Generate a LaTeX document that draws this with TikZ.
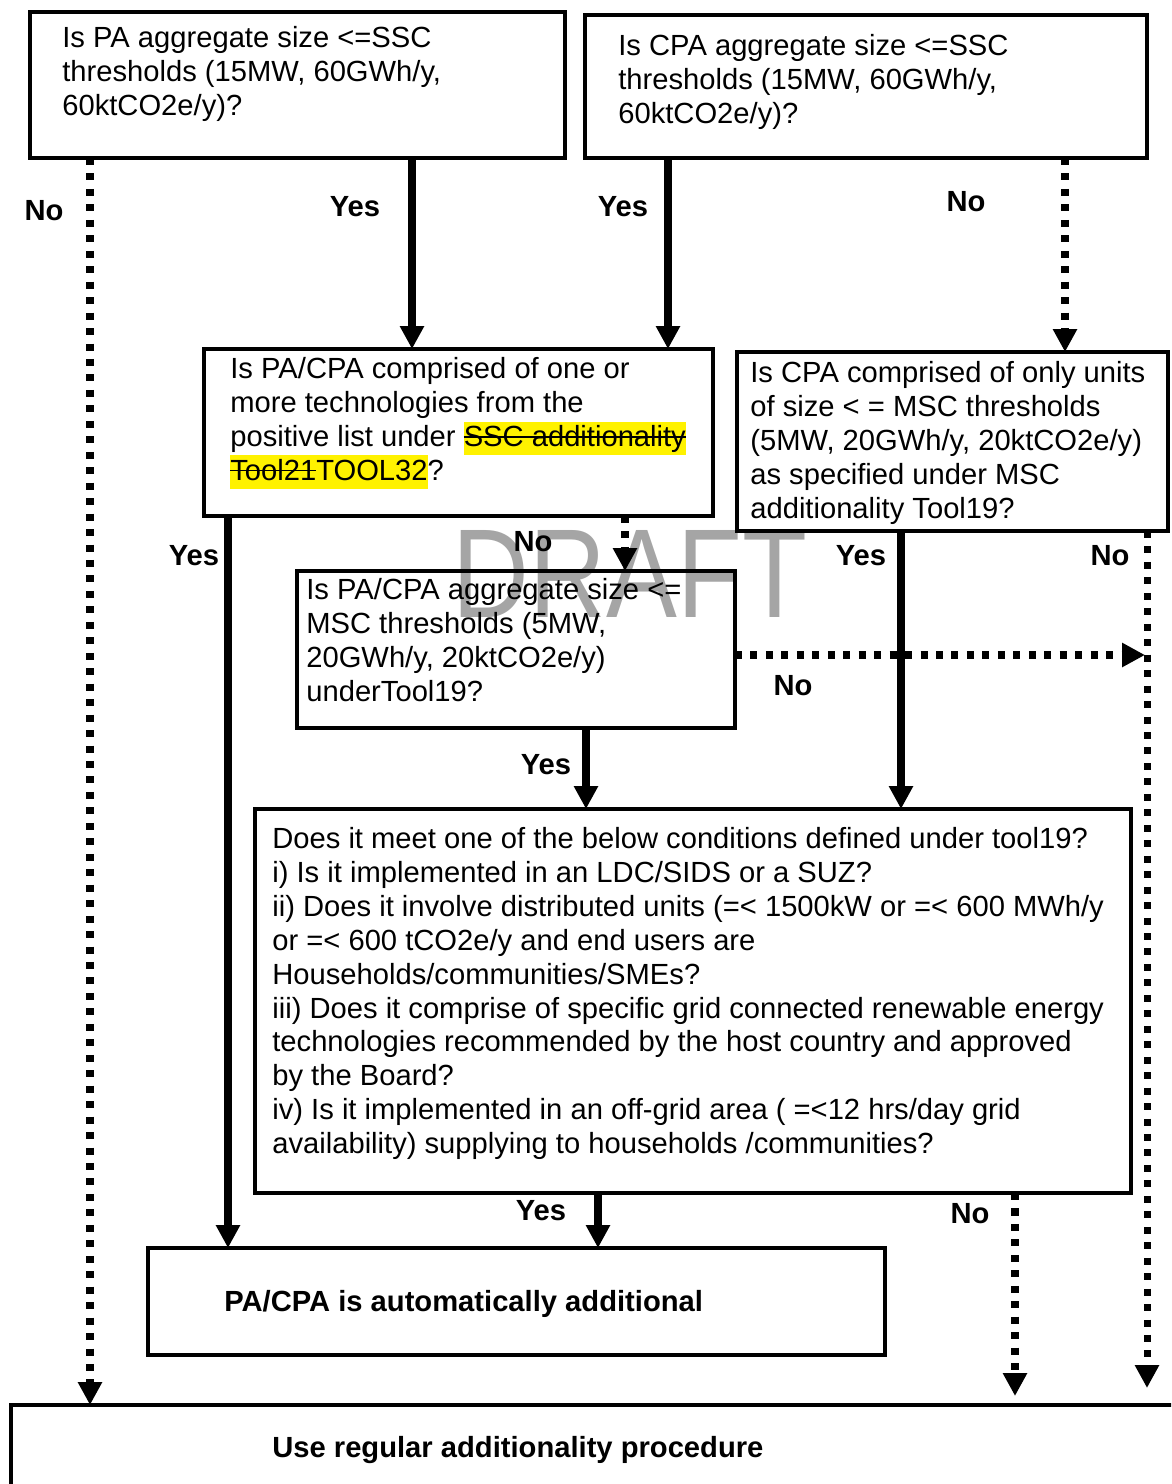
\documentclass[tikz,border=0pt]{standalone}
\usepackage{fontspec}
\setmainfont{Liberation Sans}
\newfontfamily\draftfont[FakeStretch=0.84]{Liberation Sans}
\usetikzlibrary{arrows.meta}

\definecolor{draftgray}{RGB}{165,165,165}
\newcommand\bodyfont{\fontsize{16.6}{19.3}\selectfont}
% struck-through and highlighted tool names
\newsavebox\strkbox
\newcommand\strk[1]{\sbox\strkbox{#1}\rlap{\rule[0.3em]{\wd\strkbox}{1.1pt}}\usebox\strkbox}
\newcommand\hlt[1]{{\setlength\fboxsep{0pt}\colorbox{yellow}{\rule[-5.2pt]{0pt}{19.3pt}#1}}}

\begin{document}
\begin{tikzpicture}[x=0.02cm, y=-0.02cm,
  qbox/.style 2 args={draw, line width=2.3pt, inner sep=0pt, outer sep=0pt, anchor=north west,
    minimum width=#1*0.02cm, minimum height=#2*0.02cm},
  qtxt/.style={anchor=north west, align=left, inner sep=0pt, font=\bodyfont},
  lbl/.style={inner sep=0pt, font=\bodyfont\bfseries},
  yesarrow/.style={line width=4pt, -{Triangle[width=13pt,length=13pt]}},
  noarrow/.style={line width=4pt, dash pattern=on 4pt off 4.8pt,
    -{Triangle[width=13pt,length=13pt]}}]

\clip (0,0) rectangle (1171,1484);

% watermark
\node[text=draftgray, inner sep=0pt, font=\draftfont\fontsize{72}{72}\selectfont] (draft) at (630,574) {DRAFT};

% boxes
\node[qbox={535}{146}] (pa) at (30,12) {};
\node[qbox={562}{143}] (cpa) at (585,15) {};
\node[qbox={509}{167}] (pos) at (204,349) {};
\node[qbox={431}{179}] (unit) at (737,352) {};
\node[qbox={438}{157}] (msc) at (297,571) {};
\node[qbox={876}{384}] (cond) at (255,809) {};
\node[qbox={737}{107}] (auto) at (148,1248) {};
\node[qbox={1200}{120}] (reg) at (11,1405) {};

% box texts
\node[qtxt] (patxt) at (62,26) {Is PA aggregate size <=SSC\\thresholds (15MW, 60GWh/y,\\60ktCO2e/y)?};
\node[qtxt] (cpatxt) at (618,34) {Is CPA aggregate size <=SSC\\thresholds (15MW, 60GWh/y,\\60ktCO2e/y)?};
\node[qtxt] (postxt) at (230,357) {Is PA/CPA comprised of one or\\more technologies from the\\positive list under \hlt{\strk{SSC additionality}}\\\hlt{\strk{Tool21}TOOL32}?};
\node[qtxt] (unittxt) at (750,361) {Is CPA comprised of only units\\of size < = MSC thresholds\\(5MW, 20GWh/y, 20ktCO2e/y)\\as specified under MSC\\additionality Tool19?};
\node[qtxt] (msctxt) at (306,578) {Is PA/CPA aggregate size <=\\MSC thresholds (5MW,\\20GWh/y, 20ktCO2e/y)\\underTool19?};
\node[qtxt] (condtxt) at (272,827) {Does it meet one of the below conditions defined under tool19?\\
i) Is it implemented in an LDC/SIDS or a SUZ?\\
ii) Does it involve distributed units (=< 1500kW or =< 600 MWh/y\\
or =< 600 tCO2e/y and end users are\\
Households/communities/SMEs?\\
iii) Does it comprise of specific grid connected renewable energy\\
technologies recommended by the host country and approved\\
by the Board?\\
iv) Is it implemented in an off-grid area ( =<12 hrs/day grid\\
availability) supplying to households /communities?};
\node[lbl, anchor=base west] (autotxt) at (224,1311) {PA/CPA is automatically additional};
\node[lbl, anchor=base west] (regtxt) at (272,1457) {Use regular additionality procedure};

% free ends
\coordinate (rhit) at (1145,655);
\coordinate (rend) at (1147,1388);
\coordinate (mend) at (1015,1396);

% connectors
\draw[noarrow] (pa.south -| 90,0) -- (reg.north -| 90,0);
\draw[yesarrow] (pa.south -| 412,0) -- (pos.north -| 412,0);
\draw[yesarrow] (cpa.south -| 668,0) -- (pos.north -| 668,0);
\draw[noarrow] (cpa.south -| 1065,0) -- (unit.north -| 1065,0);
\draw[yesarrow] (pos.south -| 228,0) -- (auto.north -| 228,0);
\draw[noarrow] (pos.south -| 625,0) -- (msc.north -| 625,0);
\draw[noarrow] (msc.east |- rhit) -- (rhit);
\draw[noarrow] (unit.south -| rend) -- (rend);
\draw[yesarrow] (unit.south -| 901,0) -- (cond.north -| 901,0);
\draw[yesarrow] (msc.south -| 586,0) -- (cond.north -| 586,0);
\draw[yesarrow] (cond.south -| 598,0) -- (auto.north -| 598,0);
\draw[noarrow] (cond.south -| mend) -- (mend);

% labels
\node[lbl] (no1) at (44,211) {No};
\node[lbl] (yes1) at (355,207) {Yes};
\node[lbl] (yes2) at (623,207) {Yes};
\node[lbl] (no2) at (966,202) {No};
\node[lbl] (yes3) at (194,556) {Yes};
\node[lbl] (no3) at (533,542) {No};
\node[lbl] (yes4) at (861,556) {Yes};
\node[lbl] (no4) at (1110,556) {No};
\node[lbl] (no5) at (793,686) {No};
\node[lbl] (yes5) at (546,765) {Yes};
\node[lbl] (yes6) at (541,1211) {Yes};
\node[lbl] (no6) at (970,1214) {No};
\end{tikzpicture}
\end{document}
